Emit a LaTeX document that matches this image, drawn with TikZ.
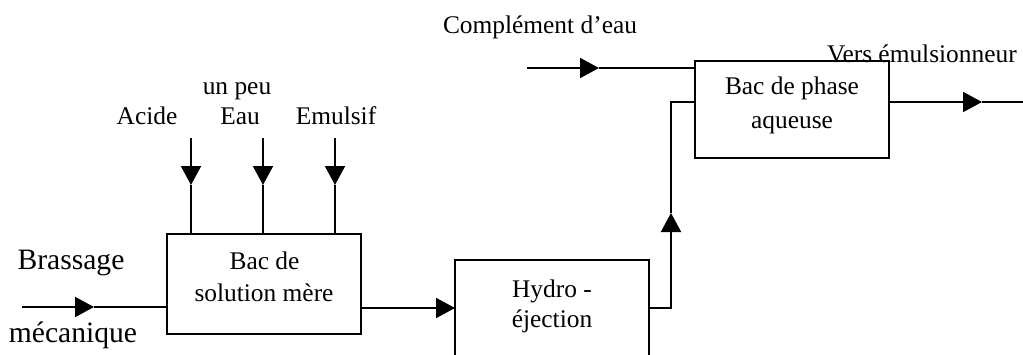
\documentclass[tikz,border=0pt]{standalone}
\usepackage{fontspec}
\setmainfont{Liberation Serif}
\usetikzlibrary{arrows.meta}
\begin{document}
\begin{tikzpicture}[x=0.5pt,y=-0.5pt,
  line width=1pt,
  box/.style={draw,rectangle,inner sep=0pt,outer sep=0pt,line width=1pt},
  txt/.style={inner sep=0pt,outer sep=0pt,anchor=base,font=\fontsize{12.7pt}{15pt}\selectfont},
  bigtxt/.style={inner sep=0pt,outer sep=0pt,anchor=base,font=\fontsize{14.8pt}{17pt}\selectfont},
  arr/.style={-{Triangle[length=9.5pt,width=10pt]}}]
\useasboundingbox (0,0) rectangle (1023,354);
% boxes
\node[box,minimum width=97pt,minimum height=50pt] (b1) at (264,284) {};
\node[box,minimum width=97pt,minimum height=70pt] (b2) at (552,330) {};
\node[box,minimum width=97pt,minimum height=48.5pt] (b3) at (792,109.5) {};
% box texts
\node[txt] (b1a) at (264.5,269) {Bac de};
\node[txt] (b1b) at (264,301) {solution mère};
\node[txt] (b2a) at (552,297) {Hydro -};
\node[txt] (b2b) at (552,327) {éjection};
\node[txt] (b3a) at (792,94) {Bac de phase};
\node[txt] (b3b) at (792,128) {aqueuse};
% labels
\node[bigtxt] (brass) at (71,269) {Brassage};
\node[bigtxt] (meca) at (73,342) {mécanique};
\node[txt] (acide) at (147,124) {Acide};
\node[txt] (eau) at (240,124) {Eau};
\node[txt] (peu) at (237,94) {un peu};
\node[txt] (emul) at (336,124) {Emulsif};
\node[txt] (compl) at (540,33) {Complément d’eau};
\node[txt,anchor=base west] (vers) at (827,62) {Vers émulsionneur};
% coordinates
\coordinate (s1) at (22,307);
\coordinate (t1) at (94,307);
\coordinate (y12) at (0,308);
\coordinate (c1) at (671,308);
\coordinate (t2) at (671,213);
\coordinate (c2) at (671,102);
\coordinate (s3) at (527,68);
\coordinate (t3) at (599,68);
\coordinate (t4) at (982,102);
\coordinate (e4) at (1040,102);
\coordinate (a1) at (191,138);
\coordinate (a2) at (263,138);
\coordinate (a3) at (335,138);
\coordinate (ta1) at (191,185);
\coordinate (ta2) at (263,185);
\coordinate (ta3) at (335,185);
% connectors
\draw[arr] (s1) -- (t1);
\draw (t1) -- (b1.west |- t1);
\draw[arr] (b1.east |- y12) -- (b2.west |- y12);
\draw[arr] (b2.east |- y12) -- (c1) -- (t2);
\draw (t2) -- (c2) -- (b3.west |- c2);
\draw[arr] (s3) -- (t3);
\draw (t3) -- (b3.west |- t3);
\draw[arr] (b3.east |- c2) -- (t4);
\draw (t4) -- (e4);
\draw[arr] (a1) -- (ta1);
\draw (ta1) -- (a1 |- b1.north);
\draw[arr] (a2) -- (ta2);
\draw (ta2) -- (a2 |- b1.north);
\draw[arr] (a3) -- (ta3);
\draw (ta3) -- (a3 |- b1.north);
\end{tikzpicture}
\end{document}
